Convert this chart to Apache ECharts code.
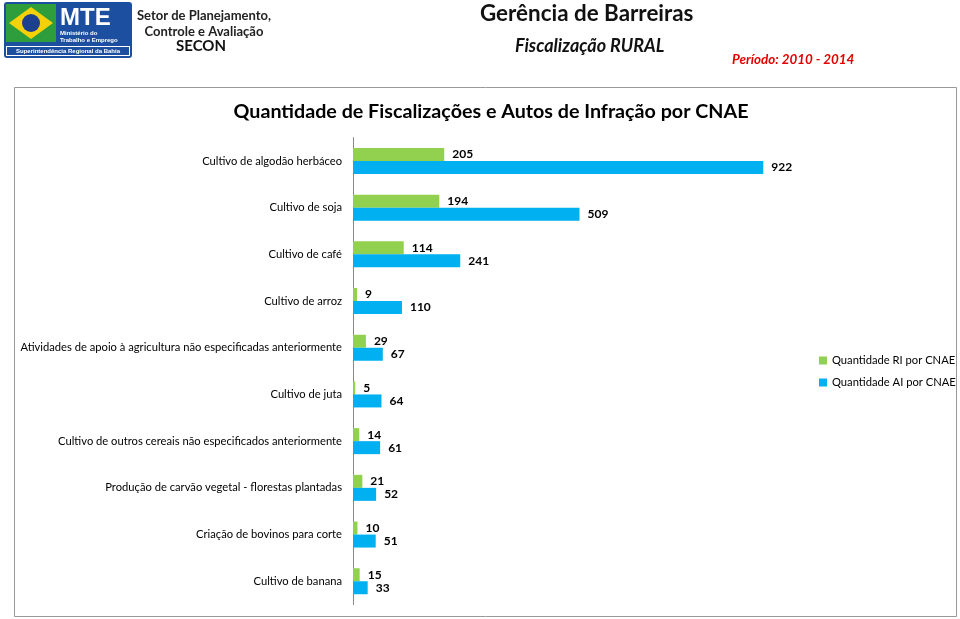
<!DOCTYPE html>
<html><head><meta charset="utf-8">
<script src="https://cdn.jsdelivr.net/npm/echarts@6/dist/echarts.min.js"></script>
<style>html,body{margin:0;padding:0;background:#fff}#c{width:960px;height:619px}</style>
</head><body><div id="c"></div>
<script>
var categories = [
  "Cultivo de algodão herbáceo",
  "Cultivo de soja",
  "Cultivo de café",
  "Cultivo de arroz",
  "Atividades de apoio à agricultura não especificadas anteriormente",
  "Cultivo de juta",
  "Cultivo de outros cereais não especificados anteriormente",
  "Produção de carvão vegetal - florestas plantadas",
  "Criação de bovinos para corte",
  "Cultivo de banana"
];
var riValues = [205, 194, 114, 9, 29, 5, 14, 21, 10, 15];
var aiValues = [922, 509, 241, 110, 67, 64, 61, 52, 51, 33];
var seriesNames = ["Quantidade RI por CNAE", "Quantidade AI por CNAE"];

var FONT = "Lato";
var chart = echarts.init(document.getElementById('c'));
chart.setOption({
  animation: false,
  textStyle: {fontFamily: FONT},
  title: {
    text: "Quantidade de Fiscalizações e Autos de Infração por CNAE",
    left: 486, textAlign: 'center', top: 97,
    textStyle: {fontFamily: FONT, fontSize: 19.7, fontWeight: 'bold', color: '#000'}
  },
  legend: {
    orient: 'vertical', left: 814, top: 350,
    itemWidth: 8, itemHeight: 8, itemGap: 11,
    icon: 'rect',
    textStyle: {fontFamily: FONT, fontSize: 11.2, color: '#000'},
    data: seriesNames
  },
  grid: {left: 353, right: 162, top: 137.6, bottom: 14.4, containLabel: false, outerBoundsMode: 'none'},
  xAxis: {type: 'value', min: 0, max: 1000, show: false, splitLine: {show: false}},
  yAxis: {
    type: 'category', data: categories, inverse: true,
    axisLine: {show: true, lineStyle: {color: '#888', width: 1}},
    axisTick: {show: false},
    axisLabel: {fontFamily: FONT, fontSize: 11.2, color: '#000', margin: 11}
  },
  series: [
    {name: seriesNames[0], type: 'bar', data: riValues, barWidth: 13, barGap: '0%',
     itemStyle: {color: '#92D050'},
     label: {show: true, position: 'right', distance: 8, fontFamily: FONT, fontSize: 12, fontWeight: 'bold', color: '#000'}},
    {name: seriesNames[1], type: 'bar', data: aiValues, barWidth: 13, barGap: '0%',
     itemStyle: {color: '#00B0F0'},
     label: {show: true, position: 'right', distance: 8, fontFamily: FONT, fontSize: 12, fontWeight: 'bold', color: '#000'}}
  ],
  graphic: [
    {type: 'rect', shape: {x: 14.5, y: 87.5, width: 942, height: 529}, style: {fill: 'none', stroke: '#999', lineWidth: 1}, z: -1},
    // logo
    {type: 'rect', shape: {x: 4, y: 2, width: 128, height: 56, r: 3}, style: {fill: '#1d4fa0'}},
    {type: 'rect', shape: {x: 6, y: 4, width: 50, height: 38}, style: {fill: '#2e9e3c'}},
    {type: 'polygon', shape: {points: [[31, 7], [53, 23], [31, 39], [9, 23]]}, style: {fill: '#f5d10a'}},
    {type: 'circle', shape: {cx: 31, cy: 23, r: 9}, style: {fill: '#1d3f8f'}},
    {type: 'text', style: {text: 'MTE', x: 60, y: 6, font: 'bold 24px "Liberation Sans"', fill: '#fff'}},
    {type: 'text', style: {text: 'Ministério do\nTrabalho e Emprego', x: 60, y: 30, font: 'bold 6px "Liberation Sans"', fill: '#fff', lineHeight: 7}},
    {type: 'rect', shape: {x: 6, y: 46, width: 124, height: 10}, style: {fill: '#fff'}},
    {type: 'rect', shape: {x: 7, y: 47, width: 122, height: 8}, style: {fill: '#1d4fa0'}},
    {type: 'text', style: {text: 'Superintendência Regional da Bahia', x: 68, y: 48, align: 'center', font: 'bold 6px "Liberation Sans"', fill: '#fff'}},
    {type: 'text', style: {text: 'Setor de Planejamento,\nControle e Avaliação', x: 204, y: 8, align: 'center', font: 'bold 13px ' + FONT, fill: '#222', lineHeight: 16}},
    {type: 'text', style: {text: 'SECON', x: 201, y: 39, align: 'center', font: 'bold 15px ' + FONT, fill: '#111'}},
    // header titles
    {type: 'text', style: {text: 'Gerência de Barreiras', x: 480, y: 3, font: 'bold 22.4px ' + FONT, fill: '#111'}},
    {type: 'text', style: {text: 'Fiscalização RURAL', x: 515, y: 37, font: 'italic bold 18px ' + FONT, fill: '#111'}},
    {type: 'text', style: {text: 'Período: 2010 - 2014', x: 732, y: 53, font: 'italic bold 13.4px ' + FONT, fill: '#e00000'}}
  ]
});
</script></body></html>
